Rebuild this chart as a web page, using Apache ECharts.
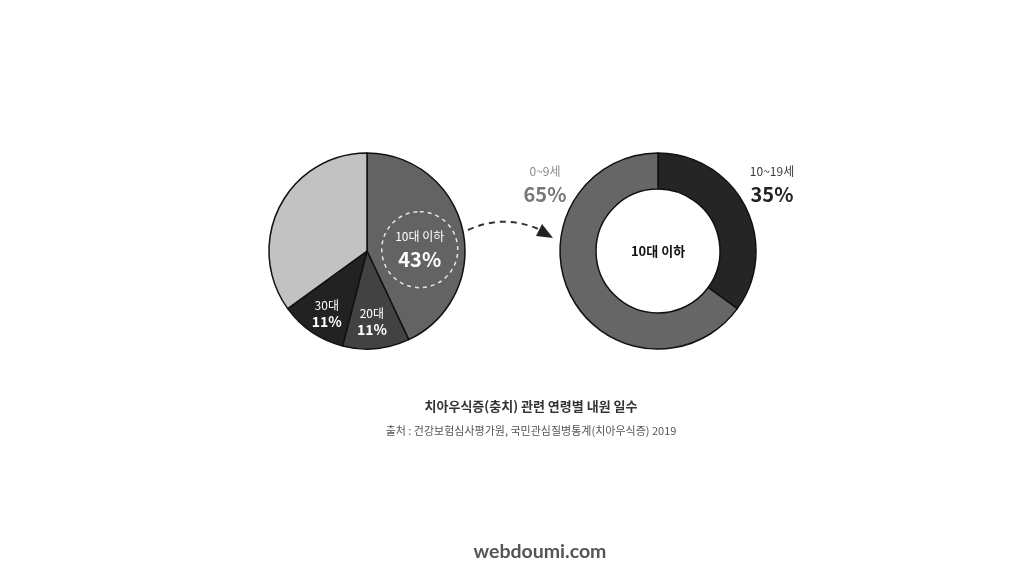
<!DOCTYPE html>
<html><head><meta charset="utf-8">
<script src="https://cdn.jsdelivr.net/npm/echarts@6/dist/echarts.min.js"></script>
<style>html,body{margin:0;padding:0;background:#fff}#c{width:1024px;height:576px}</style>
</head><body><div id="c"></div>
<script>
const FONT = '"Noto Sans CJK KR", "Noto Sans", sans-serif';
const ageGroups = ['10대 이하', '20대', '30대', '40대 이상'];
const ageShares = [43, 11, 11, 35];
const ageColors = ['#636363', '#424242', '#222222', '#c2c2c2'];
const teenGroups = ['10~19세', '0~9세'];
const teenShares = [35, 65];
const teenColors = ['#252525', '#666666'];
const titleText = '치아우식증(충치) 관련 연령별 내원 일수';
const sourceText = '출처 : 건강보험심사평가원, 국민관심질병통계(치아우식증) 2019';
const footerText = 'webdoumi.com';

const chart = echarts.init(document.getElementById('c'));

const leftLabelOffsets = [[2, 10], [0, 19], [-11, 20], [0, 0]];
const leftData = ageGroups.map((n, i) => {
  const item = { name: n, value: ageShares[i], itemStyle: { color: ageColors[i] } };
  if (i === 0) {
    item.label = {
      show: true, offset: leftLabelOffsets[i],
      formatter: '{a|' + n + '}\n{b|' + ageShares[i] + '%}',
      borderType: [4, 4], borderColor: '#e6e6e6', borderWidth: 1.5,
      borderRadius: 38, width: 76, padding: [15, 0, 15, 0], align: 'center',
      rich: {
        a: { color: '#fff', fontSize: 12, lineHeight: 20, fontFamily: FONT, align: 'center' },
        b: { color: '#fff', fontSize: 20, fontWeight: 'bold', lineHeight: 26, fontFamily: FONT, align: 'center' }
      }
    };
  } else if (i < 3) {
    item.label = {
      show: true, offset: leftLabelOffsets[i],
      formatter: '{a|' + n + '}\n{b|' + ageShares[i] + '%}',
      rich: {
        a: { color: '#fff', fontSize: 12, lineHeight: 16, fontFamily: FONT, align: 'center' },
        b: { color: '#fff', fontSize: 14, fontWeight: 'bold', lineHeight: 17, fontFamily: FONT, align: 'center' }
      }
    };
  } else {
    item.label = { show: false };
  }
  return item;
});

const rightLabelPos = [{ x: 772, y: 184, col1: '#3a3a3a', col2: '#222' }, { x: 545, y: 184, col1: '#8a8a8a', col2: '#777' }];
const rightData = teenGroups.map((n, i) => ({
  name: n, value: teenShares[i], itemStyle: { color: teenColors[i] },
  label: {
    show: true, position: 'outside',
    formatter: '{a|' + n + '}\n{b|' + teenShares[i] + '%}',
    rich: {
      a: { color: rightLabelPos[i].col1, fontSize: 12, lineHeight: 20, fontFamily: FONT, align: 'center', letterSpacing: -0.5 },
      b: { color: rightLabelPos[i].col2, fontSize: 20, fontWeight: 'bold', lineHeight: 26, fontFamily: FONT, align: 'center' }
    }
  }
}));

chart.setOption({
  backgroundColor: '#ffffff',
  animation: false,
  series: [
    {
      type: 'pie', center: [367, 251], radius: 98, startAngle: 90, clockwise: true,
      itemStyle: { borderColor: '#111', borderWidth: 1.5 },
      label: { position: 'inside' }, labelLine: { show: false },
      emphasis: { disabled: true },
      data: leftData
    },
    {
      type: 'pie', center: [658, 251], radius: [62, 98], startAngle: 90, clockwise: true,
      itemStyle: { borderColor: '#111', borderWidth: 1.5 },
      labelLine: { show: false },
      labelLayout: function (p) {
        const pos = rightLabelPos[p.dataIndex];
        return { x: pos.x, y: pos.y, align: 'center', verticalAlign: 'middle' };
      },
      emphasis: { disabled: true },
      data: rightData
    }
  ],
  graphic: [
    { type: 'text', x: 658, y: 251,
      style: { text: '10대 이하', fontFamily: FONT, fontSize: 13, fontWeight: 'bold', fill: '#111', align: 'center', verticalAlign: 'middle' } },
    { type: 'text', x: 531, y: 406,
      style: { text: titleText, fontFamily: FONT, fontSize: 13, fontWeight: 'bold', fill: '#333', align: 'center', verticalAlign: 'middle' } },
    { type: 'text', x: 531, y: 431,
      style: { text: sourceText, fontFamily: FONT, fontSize: 11, fill: '#555', align: 'center', verticalAlign: 'middle', letterSpacing: -0.8 } },
    { type: 'text', x: 540, y: 552,
      style: { text: footerText, fontFamily: 'Lato, "Open Sans", sans-serif', fontSize: 19.5, fontWeight: 'bold', fill: '#555', align: 'center', verticalAlign: 'middle' } },
    { type: 'bezierCurve', shape: { x1: 468, y1: 230, cpx1: 505, cpy1: 213, x2: 543, y2: 231 },
      style: { fill: null, stroke: '#333', lineWidth: 2, lineDash: [6, 5] } },
    { type: 'polygon', shape: { points: [[542, 224], [553, 238], [536, 236]] }, style: { fill: '#222' } }
  ]
});
</script></body></html>
